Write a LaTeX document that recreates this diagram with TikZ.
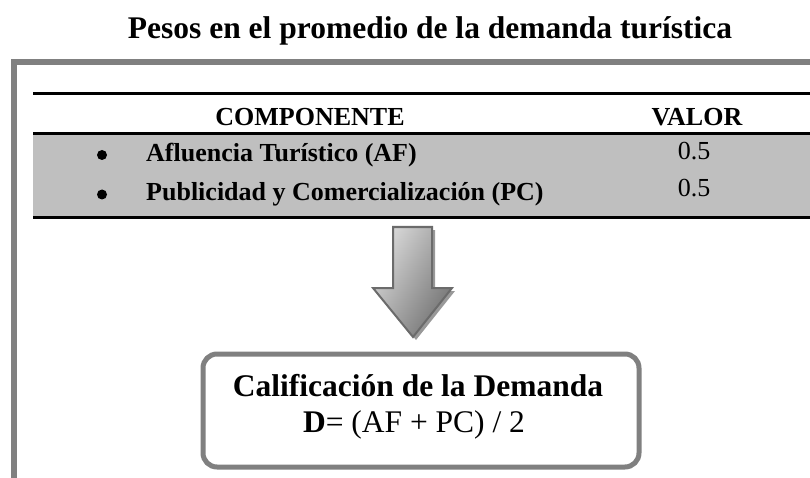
\documentclass[tikz,border=0pt]{standalone}
\usepackage{fontspec}
\setmainfont{Liberation Serif}
\begin{document}
\begin{tikzpicture}[x=1pt,y=-1pt,
  frameline/.style={draw=black!50!white,line width=6pt},
  rule/.style={draw=black,line width=3pt},
  tabtext/.style={inner sep=0pt,anchor=base,font=\fontsize{26}{30}\selectfont},
  bulletdot/.style={circle,fill=black,inner sep=0pt,minimum size=10pt},
  bigtext/.style={inner sep=0pt,anchor=base,font=\fontsize{31.5}{36}\selectfont},
  resultbox/.style={draw=black!50!white,line width=5pt,rounded corners=14pt,fill=white}]
\useasboundingbox (0,0) rectangle (810,478);
% title
\node[bigtext,font=\fontsize{31.5}{36}\selectfont\bfseries] (title) at (430,39) {Pesos en el promedio de la demanda turística};
% outer frame
\draw[frameline] (14,481) -- (14,62) -- (813,62);
% table
\fill[black!25!white] (33,135.5) rectangle (810,216.5);
\draw[rule] (33,93.5) -- (810,93.5);
\draw[rule] (33,134) -- (810,134);
\draw[rule] (33,218) -- (810,218);
\node[tabtext,font=\fontsize{26}{30}\selectfont\bfseries] (hcomp) at (310,126) {COMPONENTE};
\node[tabtext,font=\fontsize{26}{30}\selectfont\bfseries] (hval) at (697,126) {VALOR};
\node[bulletdot] (b1) at (102,155) {};
\node[bulletdot] (b2) at (102,194.5) {};
\node[tabtext,anchor=base west,font=\fontsize{26}{30}\selectfont\bfseries] (r1) at (146,161.5) {Afluencia Turístico (AF)};
\node[tabtext,anchor=base west,font=\fontsize{26}{30}\selectfont\bfseries] (r2) at (146,200.5) {Publicidad y Comercialización (PC)};
\node[tabtext] (v1) at (694,160) {0.5};
\node[tabtext] (v2) at (694,197) {0.5};
% arrow
\path[fill=black!40!white] (396,230) -- (435,230) -- (435,291) -- (455,291) -- (416,340) -- (376,291) -- (396,291) -- cycle;
\shade[left color=black!15!white,right color=black!55!white,shading angle=60,draw=black!58!white,line width=2pt]
  (393,227) -- (432,227) -- (432,288) -- (452,288) -- (413,337) -- (373,288) -- (393,288) -- cycle;
% result box
\node[resultbox,minimum width=436pt,minimum height=113pt] (box) at (421,410.5) {};
\node[bigtext,font=\fontsize{31.5}{36}\selectfont\bfseries] (l1) at (418,396) {Calificación de la Demanda};
\node[bigtext] (l2) at (414,432) {\textbf{D}= (AF + PC) / 2};
\end{tikzpicture}
\end{document}
